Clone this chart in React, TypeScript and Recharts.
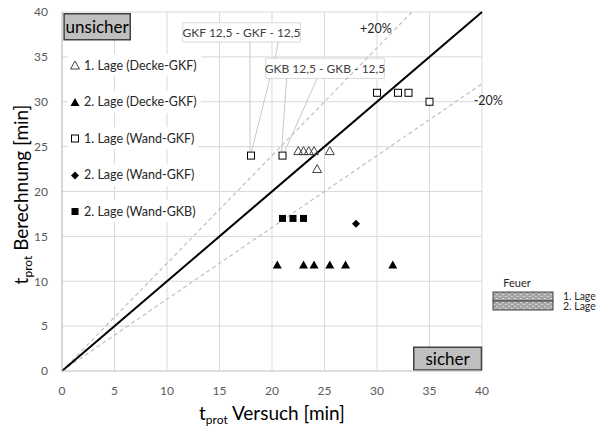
import {
  ScatterChart,
  Scatter,
  XAxis,
  YAxis,
  CartesianGrid,
  ReferenceLine,
  ReferenceArea,
  ReferenceDot,
  Label,
} from 'recharts'

document.body.style.margin = '0'

const xTicks = [0, 5, 10, 15, 20, 25, 30, 35, 40]
const yTicks = [0, 5, 10, 15, 20, 25, 30, 35, 40]

// [t_prot Versuch, t_prot Berechnung] in min
const deckeGkf1: [number, number][] = [
  [22.5, 24.5], [23, 24.5], [23.5, 24.5], [24, 24.5], [25.5, 24.5], [24.3, 22.5],
]
const deckeGkf2: [number, number][] = [
  [20.5, 11.8], [23, 11.8], [24, 11.8], [25.5, 11.8], [27, 11.8], [31.5, 11.8],
]
const wandGkf1: [number, number][] = [
  [18, 24], [21, 24], [30, 31], [32, 31], [33, 31], [35, 30],
]
const wandGkf2: [number, number][] = [[28, 16.4]]
const wandGkb2: [number, number][] = [[21, 17], [22, 17], [23, 17]]

// 1:1 and +/-20 % lines
const equalLine: [number, number][] = [[0, 0], [40, 40]]
const plus20Line: [number, number][] = [[0, 0], [33.33, 40]]
const minus20Line: [number, number][] = [[0, 0], [40, 32]]

// callout leader lines
const leaderLines: [number, number][][] = [
  [[17.9, 36.7], [17.9, 24.45]],
  [[20.6, 36.7], [20.3, 34.8]],
  [[19.8, 32.6], [18.05, 24.45]],
  [[21.4, 32.6], [20.9, 24.45]],
  [[24.3, 32.6], [21.2, 24.45]],
]

const legendNames = [
  '1. Lage (Decke-GKF)',
  '2. Lage (Decke-GKF)',
  '1. Lage (Wand-GKF)',
  '2. Lage (Wand-GKF)',
  '2. Lage (Wand-GKB)',
]

const toPoints = (arr: [number, number][]) => arr.map(([x, y]) => ({ x, y }))
const toSegment = (arr: [number, number][]) => arr.map(([x, y]) => ({ x, y }))

type P = { cx?: number; cy?: number }

const OpenTriangle = ({ cx = 0, cy = 0 }: P) => (
  <polygon
    points={`${cx},${cy - 4.5} ${cx - 4.5},${cy + 3.5} ${cx + 4.5},${cy + 3.5}`}
    fill="none"
    stroke="#404040"
    strokeWidth={1}
  />
)
const FilledTriangle = ({ cx = 0, cy = 0 }: P) => (
  <polygon points={`${cx},${cy - 4.5} ${cx - 4.5},${cy + 3.5} ${cx + 4.5},${cy + 3.5}`} fill="#000" />
)
const OpenSquare = ({ cx = 0, cy = 0 }: P) => (
  <rect x={cx - 3.5} y={cy - 3.5} width={7} height={7} fill="#fff" stroke="#000" strokeWidth={1} />
)
const Diamond = ({ cx = 0, cy = 0 }: P) => (
  <polygon points={`${cx},${cy - 4} ${cx + 4},${cy} ${cx},${cy + 4} ${cx - 4},${cy}`} fill="#000" />
)
const FilledSquare = ({ cx = 0, cy = 0 }: P) => (
  <rect x={cx - 3.5} y={cy - 3.5} width={7} height={7} fill="#000" />
)

const shapes = [OpenTriangle, FilledTriangle, OpenSquare, Diamond, FilledSquare]
const seriesData = [deckeGkf1, deckeGkf2, wandGkf1, wandGkf2, wandGkb2]

const XTitle = (props: any) => {
  const { x, y, width } = props.viewBox
  return (
    <text x={x + width / 2} y={y + 49} textAnchor="middle" fontSize={19} fill="#000">
      <tspan>t</tspan>
      <tspan fontSize={12} dy={4}>prot</tspan>
      <tspan dy={-4}> Versuch [min]</tspan>
    </text>
  )
}

const YTitle = (props: any) => {
  const { x, y, height } = props.viewBox
  const cx = x + 16
  const cy = y + height / 2 + 3
  return (
    <text x={cx} y={cy} transform={`rotate(-90 ${cx} ${cy})`} textAnchor="middle" fontSize={19} fill="#000">
      <tspan>t</tspan>
      <tspan fontSize={12} dy={4}>prot</tspan>
      <tspan dy={-4}> Berechnung [min]</tspan>
    </text>
  )
}

export default function App() {
  return (
    <div style={{ position: 'relative', width: 604, height: 430, fontFamily: 'Lato', background: '#fff' }}>
      <ScatterChart width={604} height={430} margin={{ top: 12, right: 122, left: 12, bottom: 0 }}>
        <CartesianGrid stroke="#d9d9d9" />
        <XAxis
          type="number"
          dataKey="x"
          domain={[0, 40]}
          ticks={xTicks}
          tickLine={false}
          axisLine={{ stroke: '#d0d0d0' }}
          tick={{ fontSize: 12, fill: '#595959' }}
          tickMargin={9}
          height={59}
          label={<Label content={XTitle} />}
        />
        <YAxis
          type="number"
          dataKey="y"
          domain={[0, 40]}
          ticks={yTicks}
          tickLine={false}
          axisLine={{ stroke: '#bfbfbf' }}
          tick={{ fontSize: 12, fill: '#595959' }}
          tickMargin={8}
          width={50}
          label={<Label content={YTitle} />}
        />
        <ReferenceLine segment={toSegment(plus20Line)} stroke="#c0c0c0" strokeDasharray="4 3" strokeWidth={1.2} />
        <ReferenceLine segment={toSegment(minus20Line)} stroke="#c0c0c0" strokeDasharray="4 3" strokeWidth={1.2} />
        <ReferenceLine segment={toSegment(equalLine)} stroke="#000" strokeWidth={2} />
        {leaderLines.map((seg, i) => (
          <ReferenceLine key={i} segment={toSegment(seg)} stroke="#c8c8c8" strokeWidth={1} />
        ))}
        <ReferenceArea
          x1={11.5} x2={22.7} y1={36.65} y2={38.8}
          fill="#fff" fillOpacity={1} stroke="#d9d9d9"
          label={{ value: 'GKF 12,5 - GKF - 12,5', position: 'center', fontSize: 12, fill: '#404040' }}
        />
        <ReferenceArea
          x1={19.4} x2={30.7} y1={32.6} y2={34.85}
          fill="#fff" fillOpacity={1} stroke="#d9d9d9"
          label={{ value: 'GKB 12,5 - GKB - 12,5', position: 'center', fontSize: 12, fill: '#404040' }}
        />
        <ReferenceArea
          x1={0.2} x2={6.5} y1={36.9} y2={39.8}
          fill="#bfbfbf" fillOpacity={1} stroke="#404040" strokeWidth={1.5}
          label={{ value: 'unsicher', position: 'center', fontSize: 17, fill: '#000' }}
        />
        <ReferenceArea
          x1={33.5} x2={39.95} y1={0.1} y2={2.65}
          fill="#bfbfbf" fillOpacity={1} stroke="#404040" strokeWidth={1.5}
          label={{ value: 'sicher', position: 'center', fontSize: 17, fill: '#000' }}
        />
        <ReferenceDot
          x={29.9} y={38.2} r={0} fill="none" stroke="none"
          label={{ value: '+20%', position: 'center', fontSize: 12.5, fill: '#262626' }}
        />
        <ReferenceDot
          x={40.6} y={30.1} r={0} fill="none" stroke="none" ifOverflow="visible"
          label={{ value: '-20%', position: 'center', fontSize: 12.5, fill: '#262626' }}
        />
        {seriesData.map((d, i) => (
          <Scatter
            key={legendNames[i]}
            name={legendNames[i]}
            data={toPoints(d)}
            shape={shapes[i]}
            isAnimationActive={false}
          />
        ))}
      </ScatterChart>

      {/* series legend inside the plot */}
      {legendNames.map((name, i) => {
        const Shape = shapes[i]
        return (
          <div
            key={name}
            style={{
              position: 'absolute',
              left: 68,
              top: 54 + i * 36.5,
              height: 22,
              paddingRight: 4,
              background: '#fff',
              display: 'flex',
              alignItems: 'center',
              fontSize: 12.5,
              color: '#262626',
              whiteSpace: 'nowrap',
            }}
          >
            <svg width={12} height={12} style={{ marginLeft: 1, marginRight: 3 }}>
              <Shape cx={6} cy={6.5} />
            </svg>
            {name}
          </div>
        )
      })}

      {/* Feuer legend */}
      <svg style={{ position: 'absolute', left: 484, top: 274 }} width={120} height={44}>
        <defs>
          <pattern id="feuer" width={6} height={4} patternUnits="userSpaceOnUse">
            <rect width={6} height={4} fill="#a8a8a8" />
            <rect x={0} y={0} width={2} height={1} fill="#d6d6d6" />
            <rect x={3} y={2} width={2} height={1} fill="#cfcfcf" />
            <rect x={4} y={0} width={1} height={1} fill="#8c8c8c" />
            <rect x={1} y={3} width={1} height={1} fill="#909090" />
          </pattern>
        </defs>
        <text x={33} y={13} textAnchor="middle" fontSize={11} fill="#262626">Feuer</text>
        <rect x={9} y={18} width={60} height={9} fill="url(#feuer)" stroke="#404040" />
        <rect x={9} y={27} width={60} height={9} fill="url(#feuer)" stroke="#404040" />
        <text x={79} y={25.5} fontSize={10.5} fill="#262626">1. Lage</text>
        <text x={79} y={35.5} fontSize={10.5} fill="#262626">2. Lage</text>
      </svg>
    </div>
  )
}
